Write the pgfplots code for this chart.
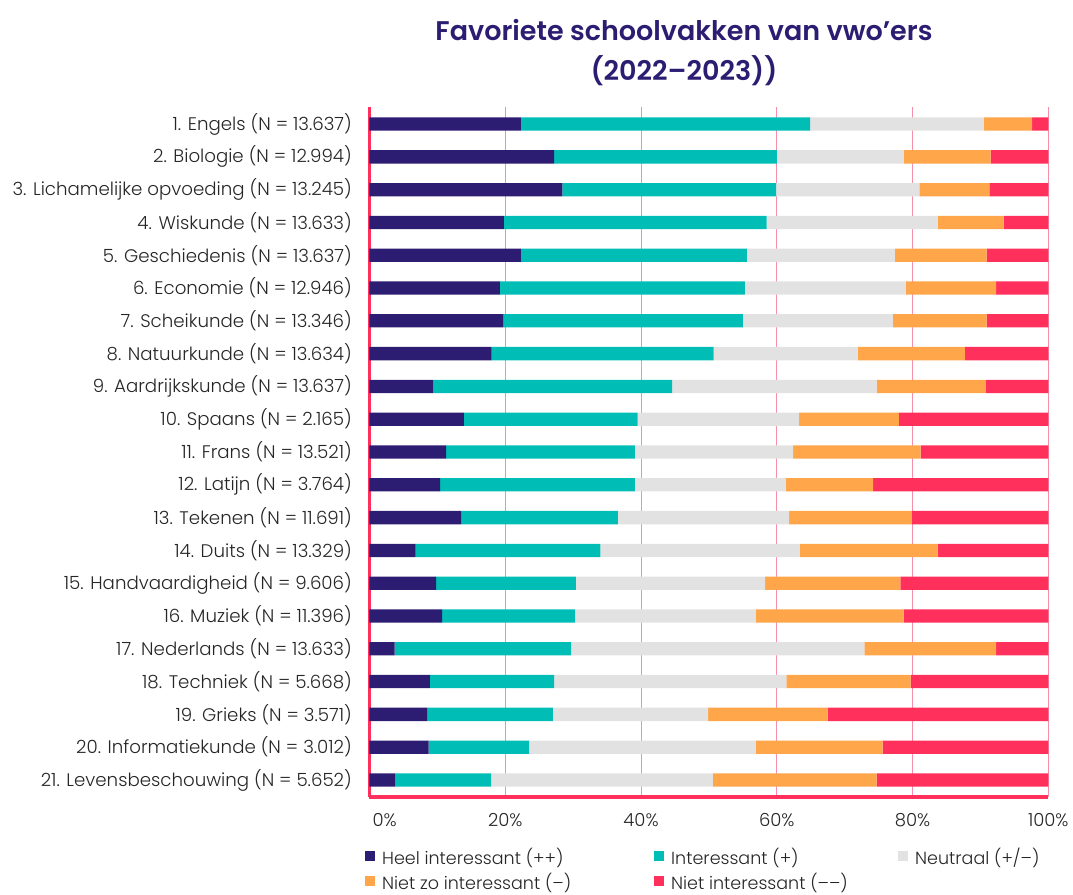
\documentclass[border=0pt]{standalone}
\usepackage{pgfplots}
\usepackage{pgfplotstable}
\pgfplotsset{compat=1.18}
\usepackage{fontspec}
\setmainfont{Poppins}[UprightFont=* Light]
\newfontfamily\titlefont{Poppins}[BoldFont=* SemiBold]
\definecolor{c1}{HTML}{2C1D72}
\definecolor{c2}{HTML}{00BDB6}
\definecolor{c3}{HTML}{E2E2E2}
\definecolor{c4}{HTML}{FFA54A}
\definecolor{c5}{HTML}{FF305C}
\definecolor{gridpink}{HTML}{F590A8}
\definecolor{txt}{HTML}{262626}
\pgfplotstableread{
idx a b c d e
1 22.3 42.6 25.6 7.1 2.4
2 27.2 32.8 18.7 12.8 8.5
3 28.4 31.5 21.1 10.3 8.7
4 19.8 38.7 25.2 9.7 6.6
5 22.3 33.3 21.8 13.5 9.1
6 19.2 36.1 23.7 13.3 7.7
7 19.7 35.3 22.1 13.8 9.1
8 18.0 32.7 21.2 15.8 12.3
9 9.4 35.2 30.1 16.1 9.2
10 13.9 25.6 23.8 14.7 22.0
11 11.3 27.8 23.3 18.8 18.8
12 10.4 28.7 22.2 12.9 25.8
13 13.5 23.1 25.2 18.1 20.1
14 6.8 27.2 29.4 20.3 16.3
15 9.8 20.6 27.9 19.9 21.8
16 10.7 19.6 26.6 21.8 21.3
17 3.7 26.0 43.2 19.4 7.7
18 8.9 18.3 34.2 18.3 20.3
19 8.5 18.5 22.9 17.6 32.5
20 8.7 14.8 33.4 18.7 24.4
21 3.8 14.1 32.7 24.1 25.3
}\data
\begin{document}
\begin{tikzpicture}[x=1pt,y=1pt]
\useasboundingbox (0,0) rectangle (1073,-894);
\node[font=\titlefont\bfseries\fontsize{27}{40}\selectfont, text=c1, align=center] at (684,-53) {Favoriete schoolvakken van vwo’ers\\(2022–2023))};
\begin{axis}[
  at={(369.5pt,-107pt)}, anchor=north west,
  width=678.8pt, height=690pt, scale only axis,
  xbar stacked, bar width=13.3pt,
  xmin=0, xmax=100, ymin=0.48, ymax=21.52, y dir=reverse,
  axis x line*=bottom, axis y line*=left,
  axis line style={c5, line width=3.5pt, -},
  major tick length=0pt,
  xmajorgrids, grid style={gridpink, line width=0.9pt},
  xtick={0,20,40,60,80,100},
  xticklabels={\makebox[0pt][l]{\hspace{3pt}0\%},20\%,40\%,60\%,80\%,100\%},
  xticklabel style={font=\fontsize{18}{20}\selectfont, text=txt, inner sep=0pt, anchor=north, yshift=-16pt},
  ytick={1,...,21},
  yticklabels={
    1. Engels (N = 13.637),
    2. Biologie (N = 12.994),
    3. Lichamelijke opvoeding (N = 13.245),
    4. Wiskunde (N = 13.633),
    5. Geschiedenis (N = 13.637),
    6. Economie (N = 12.946),
    7. Scheikunde (N = 13.346),
    8. Natuurkunde (N = 13.634),
    9. Aardrijkskunde (N = 13.637),
    10. Spaans (N = 2.165),
    11. Frans (N = 13.521),
    12. Latijn (N = 3.764),
    13. Tekenen (N = 11.691),
    14. Duits (N = 13.329),
    15. Handvaardigheid (N = 9.606),
    16. Muziek (N = 11.396),
    17. Nederlands (N = 13.633),
    18. Techniek (N = 5.668),
    19. Grieks (N = 3.571),
    20. Informatiekunde (N = 3.012),
    21. Levensbeschouwing (N = 5.652)},
  yticklabel style={font=\fontsize{18.2}{20}\selectfont, text=txt, inner sep=0pt, anchor=east, xshift=-17.5pt},
  legend columns=3,
  legend style={at={(-0.0066,-0.078)}, anchor=north west, draw=none, fill=none, inner sep=0pt,
    font=\fontsize{17.5}{19}\selectfont, text=txt,
    nodes={inner sep=0pt, text height=12.5pt, text depth=4pt},
    /tikz/every odd column/.append style={column sep=7pt},
    /tikz/every even column/.append style={column sep=0pt},
    row sep=7.5pt},
  legend cell align=left,
  legend image code/.code={\fill[#1] (0pt,-1pt) rectangle (10pt,9pt);},
]
\addplot[fill=c1, draw=none] table[x=a, y=idx] {\data};
\addplot[fill=c2, draw=none] table[x=b, y=idx] {\data};
\addplot[fill=c3, draw=none] table[x=c, y=idx] {\data};
\addplot[fill=c4, draw=none] table[x=d, y=idx] {\data};
\addplot[fill=c5, draw=none] table[x=e, y=idx] {\data};
\addlegendentry{\makebox[272pt][l]{Heel interessant (++)}}
\addlegendentry{\makebox[227pt][l]{Interessant (+)}}
\addlegendentry{Neutraal (+/–)}
\addlegendentry{\makebox[272pt][l]{Niet zo interessant (–)}}
\addlegendentry{\makebox[227pt][l]{Niet interessant (–{}–)}}
\end{axis}
\end{tikzpicture}
\end{document}
